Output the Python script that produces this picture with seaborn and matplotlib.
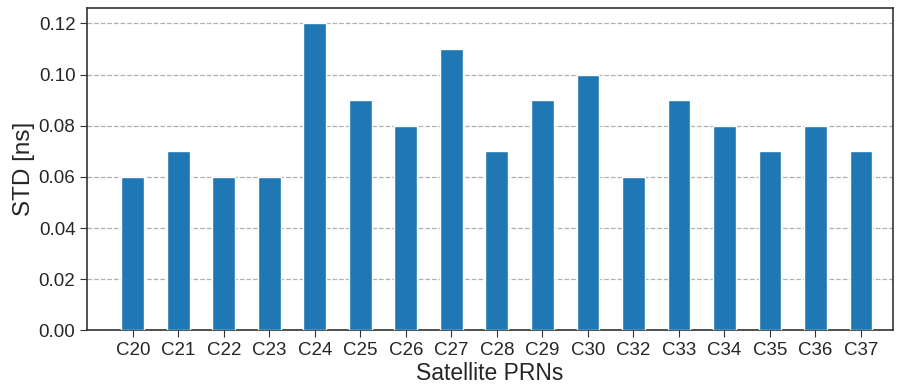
import matplotlib
matplotlib.use("Agg")
import matplotlib.pyplot as plt
import pandas as pd
import seaborn as sns

# Data
prns = ["C20", "C21", "C22", "C23", "C24", "C25", "C26", "C27", "C28",
        "C29", "C30", "C32", "C33", "C34", "C35", "C36", "C37"]
std_ns = [0.06, 0.07, 0.06, 0.06, 0.12, 0.09, 0.08, 0.11, 0.07,
          0.09, 0.10, 0.06, 0.09, 0.08, 0.07, 0.08, 0.07]
y_ticks = [0.00, 0.02, 0.04, 0.06, 0.08, 0.10, 0.12]

df = pd.DataFrame({"prn": prns, "std": std_ns})

sns.set_style("ticks")
plt.rcParams["font.family"] = ["Liberation Sans", "DejaVu Sans"]

fig, ax = plt.subplots(figsize=(9, 3.85), dpi=100)
sns.barplot(data=df, x="prn", y="std", color="#1f77b4", saturation=1,
            width=0.5, ax=ax, zorder=3)

ax.set_xlim(-1.0, 16.7)
ax.set_ylim(0, 0.126)
ax.set_yticks(y_ticks)
ax.set_yticklabels([f"{v:.2f}" for v in y_ticks])
ax.yaxis.grid(True, linestyle="--", color="#b0b0b0", linewidth=0.9, zorder=0)
ax.set_axisbelow(True)

ax.set_xlabel("Satellite PRNs", fontsize=16.5, labelpad=2)
ax.set_ylabel("STD [ns]", fontsize=17.5, labelpad=3)
ax.tick_params(axis="both", labelsize=13.5, length=5, color="#333333")
for s in ax.spines.values():
    s.set_color("#333333")
    s.set_linewidth(1.2)

fig.subplots_adjust(left=0.097, right=0.992, top=0.979, bottom=0.142)
fig.savefig("out.png", dpi=100)
